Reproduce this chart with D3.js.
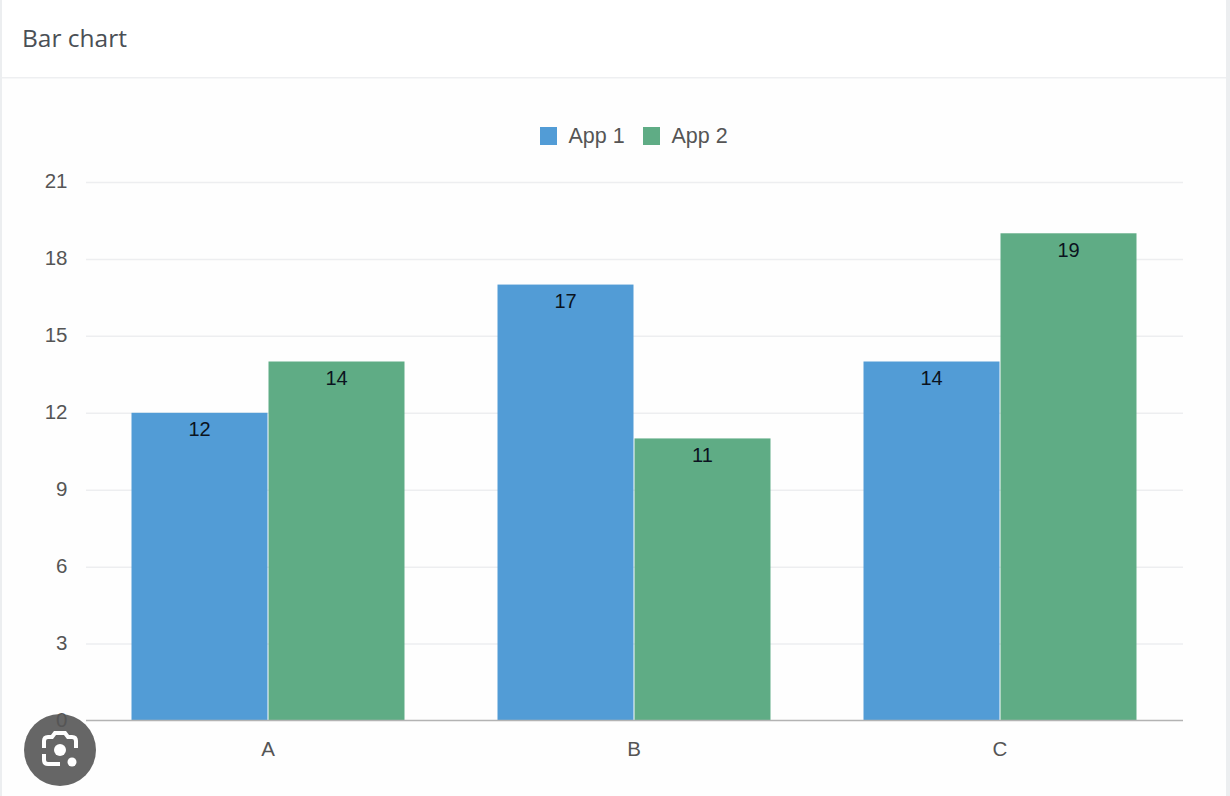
<!DOCTYPE html>
<html><head><meta charset="utf-8">
<script src="https://cdnjs.cloudflare.com/ajax/libs/d3/7.8.5/d3.min.js"></script>
<style>html,body{margin:0;padding:0;background:#fff}svg{display:block}text{font-family:"Open Sans","Liberation Sans",sans-serif}</style>
</head><body><svg id="c" width="1230" height="796"></svg>
<script>
const categories = ["A","B","C"];
const seriesNames = ["App 1","App 2"];
const app1 = [12,17,14];
const app2 = [14,11,19];
const yTicks = [0,3,6,9,12,15,18,21];
const colors = ["#529cd6","#5fac85"];
const titleText = "Bar chart";

const svg = d3.select("#c");
const axisFont = '"Liberation Sans",Arial,sans-serif';
// card
svg.append("rect").attr("x",0).attr("y",0).attr("width",1230).attr("height",796).attr("fill","#fff");
svg.append("rect").attr("x",2).attr("y",78).attr("width",1224).attr("height",718).attr("fill","#fefefe");
svg.append("rect").attr("x",0).attr("y",0).attr("width",2).attr("height",796).attr("fill","#eceef0");
svg.append("rect").attr("x",1226).attr("y",0).attr("width",4).attr("height",796).attr("fill","#eceef0");
svg.append("rect").attr("x",2).attr("y",77).attr("width",1224).attr("height",1.5).attr("fill","#eeeff1");
svg.append("text").attr("x",22).attr("y",47).attr("font-size",24.5).attr("fill","#4a4f55")
  .style("font-family",'"Open Sans",sans-serif').text(titleText);

const x0 = d3.scaleBand().domain(categories).range([85,1183]);
const y = d3.scaleLinear().domain([0,21]).range([720.5,182]);
const barW = 136;
const x1 = d3.scaleBand().domain(seriesNames).range([0,barW*2+2]);

// gridlines
const gridG = svg.append("g").attr("transform","translate(86,0)")
  .call(d3.axisLeft(y).tickValues(yTicks.slice(1)).tickSize(-1097).tickFormat(""));
gridG.select(".domain").remove();
gridG.selectAll("line").attr("stroke","#edeef0").attr("stroke-width",1.5);

// bars
const rows = categories.map((c,i)=>({c,vals:[app1[i],app2[i]]}));
const groups = svg.selectAll("g.cat").data(rows).join("g").attr("class","cat")
  .attr("transform",d=>`translate(${x0(d.c)+x0.bandwidth()/2-barW-0.5},0)`);
groups.selectAll("rect").data(d=>d.vals.map((v,i)=>({v,i}))).join("rect")
  .attr("x",d=>x1(seriesNames[d.i])).attr("width",barW)
  .attr("y",d=>y(d.v)).attr("height",d=>y(0)-y(d.v))
  .attr("fill",d=>colors[d.i]);
groups.selectAll("text").data(d=>d.vals.map((v,i)=>({v,i}))).join("text")
  .attr("x",d=>x1(seriesNames[d.i])+barW/2).attr("y",d=>y(d.v)+23.5)
  .attr("text-anchor","middle").attr("font-size",20).attr("fill","#0b1320")
  .style("font-family",axisFont).text(d=>d.v);

// axes
const xAxis = svg.append("g").attr("transform","translate(0,720.5)")
  .call(d3.axisBottom(x0).tickSize(0).tickPadding(0));
xAxis.select(".domain").attr("d","M86,0H1183").attr("stroke","#b3b3b3").attr("stroke-width",1.5);
xAxis.selectAll("text").attr("y",35).attr("dy",0).attr("font-size",20.5).attr("fill","#555")
  .style("font-family",axisFont);
const yAxis = svg.append("g").attr("transform","translate(67.5,0)")
  .call(d3.axisLeft(y).tickValues(yTicks).tickSize(0).tickPadding(0));
yAxis.select(".domain").remove();
yAxis.selectAll("text").attr("x",0).attr("dy",0).attr("y",5.5).attr("font-size",20.5).attr("fill","#555")
  .style("font-family",axisFont);

// legend
const legendX = [540,643];
const leg = svg.selectAll("g.leg").data(seriesNames).join("g").attr("class","leg")
  .attr("transform",(d,i)=>`translate(${legendX[i]},127)`);
leg.append("rect").attr("width",17).attr("height",18).attr("fill",(d,i)=>colors[i]);
leg.append("text").attr("x",28.5).attr("y",16).attr("font-size",21.5).attr("fill","#555")
  .style("font-family",axisFont).text(d=>d);

// lens badge overlaid on the screenshot
const b = svg.append("g").attr("transform","translate(60,750)");
b.append("circle").attr("r",36).attr("fill","#666");
b.append("path").attr("d","M-16,-2V-9Q-16,-13 -12,-13H-8L-5,-17H5L8,-13H12Q16,-13 16,-9V-2M-16,4V10Q-16,14 -12,14H0")
  .attr("fill","none").attr("stroke","#fff").attr("stroke-width",4);
b.append("circle").attr("cy",0).attr("r",6).attr("fill","#fff");
b.append("circle").attr("cx",12).attr("cy",12).attr("r",4.5).attr("fill","#fff");
// the 0 label sits over the badge in the reference
yAxis.raise();
</script></body></html>
